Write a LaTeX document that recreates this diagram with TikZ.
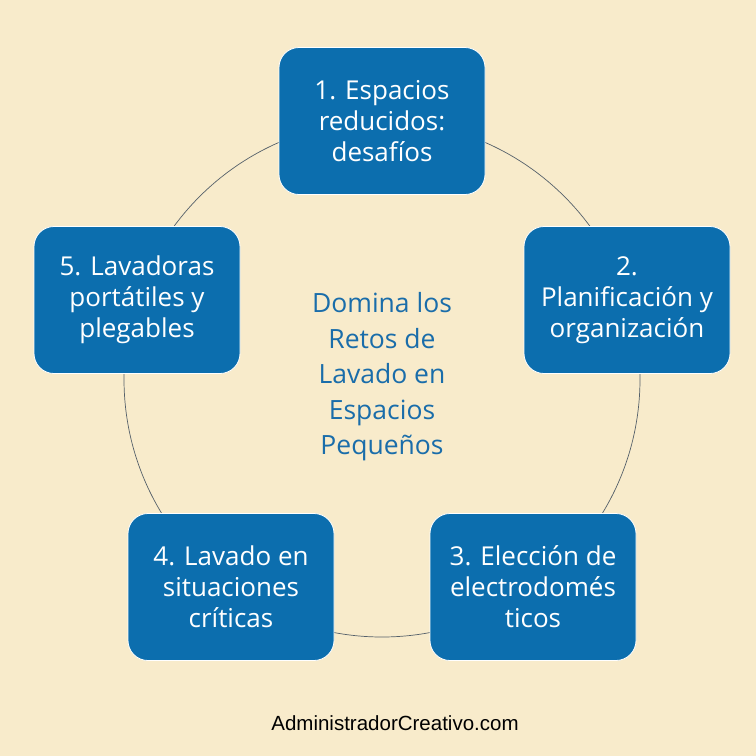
\documentclass[tikz,border=0pt]{standalone}
\usepackage{fontspec}
\setmainfont{Open Sans}
\newfontfamily\footfont{Liberation Sans}
\definecolor{fondo}{HTML}{F8EBCB}
\definecolor{caja}{HTML}{0C6EAE}
\definecolor{azultexto}{HTML}{1A6DAA}
\definecolor{aro}{HTML}{55606A}
\begin{document}
\begin{tikzpicture}[x=1pt,y=-1pt, line join=round, line cap=round,
  paso/.style={draw=white, line width=0.8pt, fill=caja, rounded corners=20pt, minimum width=206pt, minimum height=147pt, inner sep=2pt, text=white, align=center, font=\fontsize{26}{31}\selectfont}]
\fill[fondo] (0,0) rectangle (756,756);
\useasboundingbox (0,0) rectangle (756,756);
\coordinate (O) at (382,379);
\draw[aro, line width=0.7pt] (O) circle (258);
% los cinco pasos
\node[paso] (p1) at (382,121) {1. Espacios\\reducidos:\\desafíos};
\node[paso] (p2) at (627,300) {2.\\Planificación y\\organización};
\node[paso] (p3) at (533,587) {3. Elección de\\electrodomés\\ticos};
\node[paso] (p4) at (231,587) {4. Lavado en\\situaciones\\críticas};
\node[paso] (p5) at (137,300) {5. Lavadoras\\portátiles y\\plegables};
\node[text=azultexto, align=center, font=\fontsize{26.5}{35.5}\selectfont] (centro) at (382,377) {Domina los\\Retos de\\Lavado en\\Espacios\\Pequeños};
\node[font=\footfont\fontsize{20.5}{24}\selectfont] (web) at (395,723) {AdministradorCreativo.com};
\end{tikzpicture}
\end{document}
